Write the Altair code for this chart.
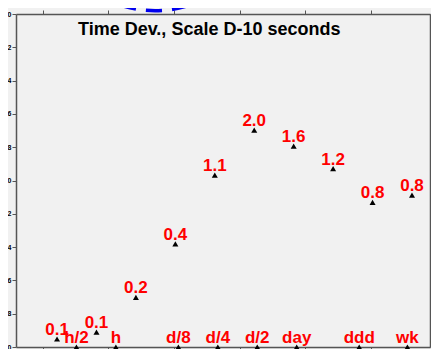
import math
import altair as alt
import pandas as pd

# ---- data ----
tau_s = [1280, 2560, 5120, 10240, 20480, 40960, 81920, 163840, 327680, 655360]
log_tdev = [-10.952, -10.911, -10.702, -10.381, -9.968, -9.698, -9.793, -9.929, -10.131, -10.088]
tdev_labels = ["0.1", "0.1", "0.2", "0.4", "1.1", "2.0", "1.6", "1.2", "0.8", "0.8"]

marker_names = ["h/2", "h", "d/8", "d/4", "d/2", "day", "ddd", "wk", "2wk"]
marker_tau = [1800, 3600, 10800, 21600, 43200, 86400, 259200, 604800, 1209600]

x_ticks_log = [3.0, 3.5, 4.0, 4.5, 5.0, 5.5]
y_ticks = [-11.0, -10.8, -10.6, -10.4, -10.2, -10.0, -9.8, -9.6, -9.4, -9.2, -9.0]
x_domain = [2.794, 5.954]
y_domain = [-11.0, -9.0]

title_text = "Time Dev., Scale D-10 seconds"

# dashed ellipse annotation (partly above the frame)
ellipse_x_log = [3.855]
ellipse_y_log = [-8.80]

pts = pd.DataFrame({
    "lt": [math.log10(t) for t in tau_s],
    "ly": log_tdev,
    "lab": tdev_labels,
})
mk = pd.DataFrame({
    "lt": [math.log10(t) for t in marker_tau],
    "ly": [y_domain[0]] * len(marker_tau),
    "lab": marker_names,
})
ell = pd.DataFrame({"lt": ellipse_x_log, "ly": ellipse_y_log})
ttl = pd.DataFrame({"t": [title_text]})

xs = alt.Scale(domain=x_domain, nice=False, zero=False)
ys = alt.Scale(domain=y_domain, nice=False, zero=False)

ax = dict(domainColor="#555555", domainWidth=1.5, tickColor="#555555",
          tickSize=4, tickWidth=1, grid=False, title=None)

x_bottom = alt.X("lt:Q", scale=xs, axis=alt.Axis(orient="bottom", values=x_ticks_log, labels=False, **ax))
y_left = alt.Y("ly:Q", scale=ys, axis=alt.Axis(orient="left", values=y_ticks, format=".1f",
                                               labelFontSize=7, labelFont="Liberation Sans",
                                               labelFontWeight="bold", labelColor="black",
                                               labelPadding=1, **ax))
x_top = alt.X("lt:Q", scale=xs, axis=alt.Axis(orient="top", values=x_ticks_log, labels=False, **ax))
y_right = alt.Y("ly:Q", scale=ys, axis=alt.Axis(orient="right", values=y_ticks, labels=False, **ax))
x_none = alt.X("lt:Q", scale=xs, axis=None)
y_none = alt.Y("ly:Q", scale=ys, axis=None)

tri = alt.Chart(pts).mark_point(shape="triangle-up", filled=True, color="black",
                                size=36, opacity=1, strokeWidth=0).encode(x=x_bottom, y=y_left)

frame2 = alt.Chart(pts).mark_point(opacity=0).encode(x=x_top, y=y_right)

txt_style = dict(color="#ff0000", font="Liberation Sans", fontWeight="bold", fontSize=17,
                 dy=-4, baseline="alphabetic", align="center")

lab = alt.Chart(pts).mark_text(**txt_style).encode(x=x_none, y=y_none, text="lab:N")

mtri = alt.Chart(mk).mark_point(shape="triangle-up", filled=True, color="black",
                                size=36, opacity=1, strokeWidth=0).encode(x=x_none, y=y_none)
mlab = alt.Chart(mk).mark_text(**txt_style).encode(x=x_none, y=y_none, text="lab:N")

ellipse_path = ("M -1 0 C -1 -0.2806 -0.5523 -0.508 0 -0.508 "
                "C 0.5523 -0.508 1 -0.2806 1 0 "
                "C 1 0.2806 0.5523 0.508 0 0.508 "
                "C -0.5523 0.508 -1 0.2806 -1 0 Z")
ellipse = alt.Chart(ell).mark_point(shape=ellipse_path, size=13924, filled=False,
                                    color="#0000ee", strokeWidth=3.5, strokeDash=[16, 10],
                                    opacity=1).encode(x=x_none, y=y_none)

title = alt.Chart(ttl).mark_text(font="Liberation Sans", fontSize=18, fontWeight="bold",
                                 color="black", align="left", baseline="alphabetic").encode(
    x=alt.value(62), y=alt.value(21), text="t:N")

chart = alt.layer(tri, frame2, lab, mtri, mlab, ellipse, title).resolve_axis(
    x="independent", y="independent"
).properties(
    width=414, height=333,
    autosize=alt.AutoSizeParams(type="none"),
    padding={"left": 8, "top": 6, "right": 1, "bottom": 2},
    background="#f1f1f1",
).configure_view(stroke=None)

chart.save("out.html", embed_options={"renderer": "svg", "actions": False})
